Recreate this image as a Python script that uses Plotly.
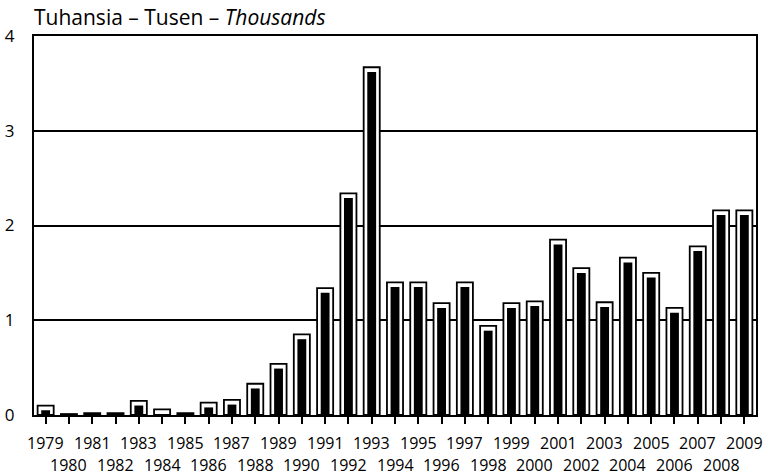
import plotly.graph_objects as go

years = list(range(1979, 2010))
values = [0.10, 0.01, 0.02, 0.02, 0.15, 0.06, 0.02, 0.13, 0.16, 0.33,
          0.54, 0.85, 1.34, 2.34, 3.67, 1.40, 1.40, 1.18, 1.40, 0.94,
          1.18, 1.20, 1.85, 1.55, 1.19, 1.66, 1.50, 1.13, 1.78, 2.16, 2.16]
y_ticks = [0, 1, 2, 3, 4]
year_labels = [str(y) for y in years]
title_text = "Tuhansia – Tusen – <i>Thousands</i>"

inner = [max(v - 0.05, 0.0) for v in values]

fig = go.Figure()
fig.add_trace(go.Bar(x=years, y=values, width=0.69,
                     marker=dict(color="white", line=dict(color="black", width=1.8)),
                     hoverinfo="skip"))
fig.add_trace(go.Bar(x=years, y=inner, width=0.38,
                     marker=dict(color="black", line=dict(width=0)),
                     hoverinfo="skip"))

annotations = [dict(text=title_text, xref="paper", yref="paper", x=0, y=1,
                    xanchor="left", yanchor="bottom", xshift=-2, yshift=3, showarrow=False,
                    font=dict(size=21, family="Open Sans"))]
for yr, lab in zip(years, year_labels):
    odd = (yr % 2 == 1)
    annotations.append(dict(text=lab, xref="x", yref="paper", x=yr, y=0,
                            xanchor="center", yanchor="middle",
                            yshift=-28 if odd else -50, showarrow=False,
                            font=dict(size=16, family="Open Sans")))

fig.update_layout(
    width=763, height=475,
    margin=dict(l=34, r=7, t=36, b=60, autoexpand=False),
    barmode="overlay",
    showlegend=False,
    plot_bgcolor="white", paper_bgcolor="white",
    font=dict(family="Open Sans", color="black", size=15),
    annotations=annotations,
)
fig.update_xaxes(range=[1978.5, 2009.5], tickvals=years, showticklabels=False,
                 ticks="outside", ticklen=7, tickwidth=1.5, tickcolor="black",
                 showline=True, linecolor="black", linewidth=2, mirror=True,
                 showgrid=False)
fig.update_yaxes(range=[0, 4], tickvals=y_ticks,
                 showline=True, linecolor="black", linewidth=2, mirror=True,
                 showgrid=True, gridcolor="black", gridwidth=1.5,
                 zeroline=False, ticks="", ticklabelstandoff=14, tickfont=dict(size=17))

fig.write_html("out.html", config={"displayModeBar": False})

with open("out.html", "r", encoding="utf-8") as f:
    html = f.read()
html = html.replace("<body>", '<body style="margin:0;overflow:hidden">', 1)
with open("out.html", "w", encoding="utf-8") as f:
    f.write(html)
